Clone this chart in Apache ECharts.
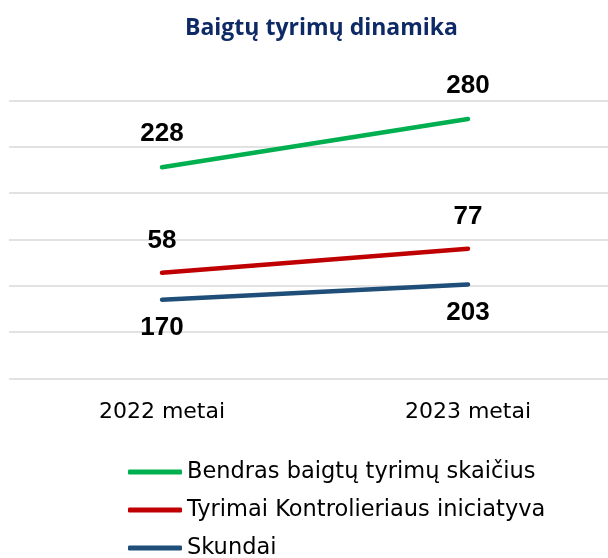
<!DOCTYPE html>
<html>
<head>
<meta charset="utf-8">
<script src="https://cdn.jsdelivr.net/npm/echarts@6/dist/echarts.min.js"></script>
<style>
  html, body { margin: 0; padding: 0; background: #fff; overflow: hidden; }
  #chart { width: 621px; height: 580px; }
</style>
</head>
<body>
<div id="chart"></div>
<script>
const categories = ['2022 metai', '2023 metai']
const skundai = [170, 203]
const iniciatyva = [58, 77]
const bendras = [228, 280]

const names = ['Bendras baigtų tyrimų skaičius', 'Tyrimai Kontrolieriaus iniciatyva', 'Skundai']
const colors = ['#00B050', '#C00000', '#1F4E79']

const chart = echarts.init(document.getElementById('chart'))

const labelStyle = (pos, dist) => ({
  show: true,
  position: pos,
  distance: dist,
  color: '#000',
  fontFamily: 'Liberation Sans, Arial, sans-serif',
  fontWeight: 'bold',
  fontSize: 26
})

const lineSeries = (name, data, color, pos, dist) => ({
  name,
  type: 'line',
  stack: 'total',
  data,
  symbol: 'circle',
  symbolSize: 0.1,
  showSymbol: true,
  color,
  lineStyle: { color, width: 4.5, cap: 'round' },
  label: labelStyle(pos, dist),
  emphasis: { disabled: true }
})

chart.setOption({
  animation: false,
  title: {
    text: 'Baigtų tyrimų dinamika',
    left: 180,
    top: 12,
    textStyle: {
      color: '#0E2A66',
      fontFamily: 'Open Sans, sans-serif',
      fontWeight: 'bold',
      fontSize: 23
    }
  },
  grid: { left: 9, top: 100.5, right: 0, height: 278 },
  xAxis: {
    type: 'category',
    data: categories,
    axisLine: { show: false },
    axisTick: { show: false },
    axisLabel: {
      margin: 23,
      color: '#000',
      fontFamily: 'DejaVu Sans, sans-serif',
      fontSize: 22
    }
  },
  yAxis: {
    type: 'value',
    min: 0,
    max: 600,
    interval: 100,
    axisLabel: { show: false },
    splitLine: { lineStyle: { color: '#D9D9D9', width: 1.5 } }
  },
  legend: {
    orient: 'vertical',
    left: 123,
    top: 455,
    data: names,
    icon: 'roundRect',
    itemWidth: 54,
    itemHeight: 5,
    itemGap: 14,
    textStyle: {
      color: '#000',
      fontFamily: 'DejaVu Sans, sans-serif',
      fontSize: 22.5,
      lineHeight: 24
    }
  },
  series: [
    lineSeries(names[2], skundai, colors[2], 'bottom', 15),
    lineSeries(names[1], iniciatyva, colors[1], 'top', 19),
    lineSeries(names[0], bendras, colors[0], 'top', 20)
  ]
})
</script>
</body>
</html>
